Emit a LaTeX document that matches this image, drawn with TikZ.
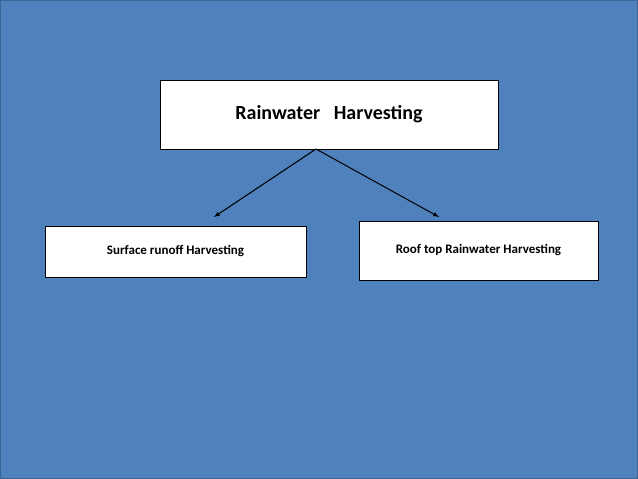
\documentclass[tikz,border=0pt]{standalone}
\usepackage{fontspec}
\setmainfont{Carlito}
\begin{document}
\begin{tikzpicture}[x=1pt,y=-1pt,
  box/.style={draw=black,fill=white,line width=1pt,inner sep=0pt,font=\bfseries},
  arr/.style={-latex,line width=1pt}]
\definecolor{bg}{HTML}{4F81BD}
\definecolor{edge}{HTML}{3A6595}
\fill[bg,draw=edge,line width=1pt] (0.5,0.5) rectangle (637.5,478.5);
\useasboundingbox (0,0) rectangle (638,479);
\node[box,minimum width=338pt,minimum height=69pt,font=\bfseries\fontsize{20}{24}\selectfont] (top) at (329,114.5) {Rainwater\ \ \ Harvesting};
\node[box,minimum width=261pt,minimum height=51pt,font=\bfseries\fontsize{13}{16}\selectfont] (left) at (175.5,251.5) {Surface runoff Harvesting};
\node[box,minimum width=239pt,minimum height=59pt,font=\bfseries\fontsize{13}{16}\selectfont] (right) at (478.5,250.5) {Roof top Rainwater Harvesting};
\coordinate (s) at (316,149);
\coordinate (l) at (214,217);
\coordinate (r) at (439,217);
\draw[arr] (s) -- (l);
\draw[arr] (s) -- (r);
\end{tikzpicture}
\end{document}
